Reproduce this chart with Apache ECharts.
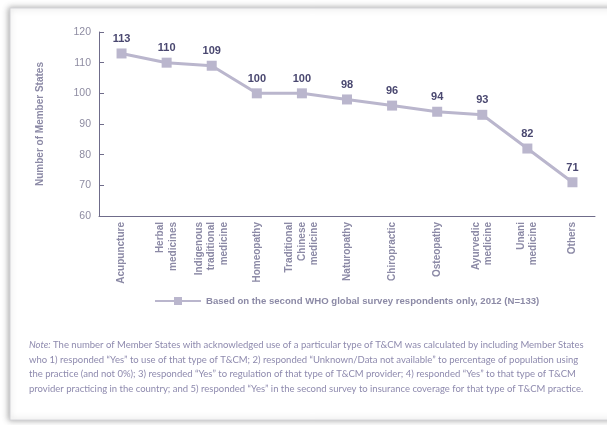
<!DOCTYPE html>
<html>
<head>
<meta charset="utf-8">
<script src="https://cdn.jsdelivr.net/npm/echarts@6/dist/echarts.min.js"></script>
<style>
  html, body { margin: 0; padding: 0; background: #ffffff; }
  #chart { width: 607px; height: 425px; }
</style>
</head>
<body>
<div id="chart"></div>
<script>
// Types of traditional & complementary medicine
const categories = [
  'Acupuncture',
  'Herbal\nmedicines',
  'Indigenous\ntraditional\nmedicine',
  'Homeopathy',
  'Traditional\nChinese\nmedicine',
  'Naturopathy',
  'Chiropractic',
  'Osteopathy',
  'Ayurvedic\nmedicine',
  'Unani\nmedicine',
  'Others'
];

// Number of Member States acknowledging use
const memberStates = [113, 110, 109, 100, 100, 98, 96, 94, 93, 82, 71];

const seriesName = 'Based on the second WHO global survey respondents only, 2012 (N=133)';
const yAxisTitle = 'Number of Member States';
const yRange = { min: 60, max: 120, step: 10 };

const noteLines = [
  ['Note:', ' The number of Member States with acknowledged use of a particular type of T&CM was calculated by including Member States'],
  ['', 'who 1) responded \u201cYes\u201d to use of that type of T&CM; 2) responded \u201cUnknown/Data not available\u201d to percentage of population using'],
  ['', 'the practice (and not 0%); 3) responded \u201cYes\u201d to regulation of that type of T&CM provider; 4) responded \u201cYes\u201d to that type of T&CM'],
  ['', 'provider practicing in the country; and 5) responded \u201cYes\u201d in the second survey to insurance coverage for that type of T&CM practice.']
];

const sans = '"Liberation Sans", Arial, sans-serif';
const markColor = '#bab6cd';
const axisColor = '#6f6c8a';
const textGrey = '#8c8aa6';

const noteGraphics = noteLines.map((ln, i) => ({
  type: 'text',
  left: 29,
  top: 340 + i * 14.5,
  style: {
    text: (ln[0] ? '{it|' + ln[0] + '}' : '') + '{n|' + ln[1] + '}',
    rich: {
      it: { fontStyle: 'italic', fontSize: 9.5, fontFamily: 'Lato, "Open Sans", sans-serif', fill: '#8e8aae' },
      n: { fontSize: 9.5, fontFamily: 'Lato, "Open Sans", sans-serif', fill: '#8e8aae' }
    }
  }
}));

const chart = echarts.init(document.getElementById('chart'), null, { renderer: 'canvas' });
chart.setOption({
  animation: false,
  backgroundColor: '#ffffff',
  graphic: [
    {
      type: 'rect',
      z: -10,
      shape: { x: 10, y: 8, width: 620, height: 412 },
      style: {
        fill: '#ffffff',
        stroke: '#d4d4d8',
        lineWidth: 1,
        shadowBlur: 6,
        shadowOffsetX: -1,
        shadowColor: 'rgba(0,0,0,0.35)'
      }
    },
    ...noteGraphics
  ],
  grid: { left: 99, right: 12, top: 32, bottom: 209, containLabel: false },
  legend: {
    top: 291,
    left: 149,
    itemWidth: 46,
    itemHeight: 10,
    itemGap: 6,
    textStyle: { color: textGrey, fontSize: 9.6, fontWeight: 'bold', fontFamily: sans },
    data: [seriesName]
  },
  xAxis: {
    type: 'category',
    data: categories,
    boundaryGap: true,
    axisLine: { lineStyle: { color: axisColor, width: 1 } },
    axisTick: { inside: true, length: 5, alignWithLabel: false, lineStyle: { color: axisColor } },
    axisLabel: {
      interval: 0,
      rotate: 90,
      margin: 6,
      color: textGrey,
      fontSize: 10,
      fontWeight: 'bold',
      fontFamily: sans,
      lineHeight: 12.5
    }
  },
  yAxis: {
    type: 'value',
    min: yRange.min,
    max: yRange.max,
    interval: yRange.step,
    name: yAxisTitle,
    nameLocation: 'middle',
    nameGap: 54,
    nameRotate: 90,
    nameTextStyle: { color: textGrey, fontSize: 10, fontWeight: 'bold', fontFamily: sans },
    axisLine: { show: true, lineStyle: { color: axisColor, width: 1 } },
    axisTick: { show: true, inside: true, length: 5, lineStyle: { color: axisColor } },
    splitLine: { show: false },
    axisLabel: { color: '#8e8ca2', fontSize: 10.5, fontFamily: sans, margin: 8 }
  },
  series: [{
    name: seriesName,
    type: 'line',
    data: memberStates,
    symbol: 'rect',
    symbolSize: 10,
    lineStyle: { color: markColor, width: 3 },
    itemStyle: { color: markColor },
    label: {
      show: true,
      position: 'top',
      distance: 4,
      color: '#4a4870',
      fontSize: 11,
      fontWeight: 'bold',
      fontFamily: sans
    }
  }]
});
</script>
</body>
</html>
